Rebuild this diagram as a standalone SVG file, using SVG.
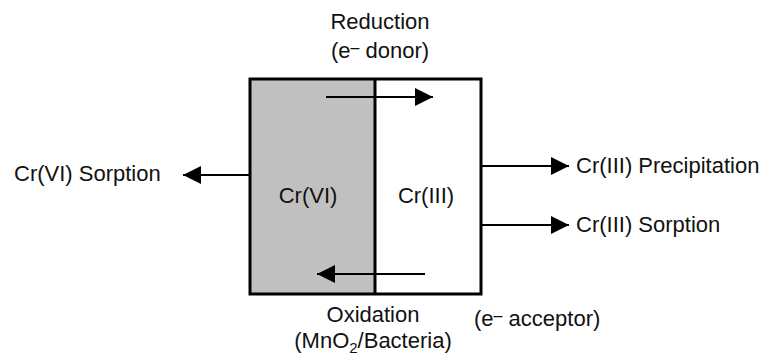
<svg xmlns="http://www.w3.org/2000/svg" width="766" height="356" viewBox="0 0 766 356">
<style>
text{font-family:"Liberation Sans",Arial,sans-serif;font-size:22px;fill:#111}
.c{text-anchor:middle}
.box{stroke:#000;stroke-width:3;fill:none}
.arr{stroke:#000;stroke-width:2.2;fill:none;marker-end:url(#ah)}
</style>
<defs>
<marker id="ah" markerUnits="userSpaceOnUse" markerWidth="20" markerHeight="18" refX="18" refY="9" orient="auto">
<path d="M0,0 L18,9 L0,18 Z" fill="#000"/>
</marker>
</defs>
<rect width="766" height="356" fill="#fff"/>
<g id="crvi">
<rect x="250" y="79" width="125" height="215" fill="#c0c0c0"/>
<text class="c" x="308" y="203">Cr(VI)</text>
</g>
<g id="criii">
<rect x="375" y="79" width="106" height="215" fill="#fff"/>
<text class="c" x="426" y="203">Cr(III)</text>
</g>
<g id="frame">
<rect class="box" x="250" y="79" width="231" height="215"/>
<line x1="375" y1="79" x2="375" y2="294" stroke="#000" stroke-width="3"/>
</g>
<g id="connectors">
<line class="arr" x1="326" y1="97" x2="433" y2="97"/>
<line class="arr" x1="425" y1="274" x2="317" y2="274"/>
<line class="arr" x1="249" y1="175" x2="183" y2="175"/>
<line class="arr" x1="482" y1="166" x2="569" y2="166"/>
<line class="arr" x1="482" y1="225" x2="569" y2="225"/>
</g>
<g id="reduction">
<text class="c" x="380" y="29">Reduction</text>
<text class="c" x="380" y="58">(e<tspan font-size="16" dy="-5">–</tspan><tspan dy="5"> donor)</tspan></text>
</g>
<g id="oxidation">
<text class="c" x="373" y="322">Oxidation</text>
<text class="c" x="373" y="348">(MnO<tspan font-size="15" dy="5">2</tspan><tspan dy="-5">/Bacteria)</tspan></text>
</g>
<g id="acceptor">
<text x="474" y="326">(e<tspan font-size="16" dy="-5">–</tspan><tspan dy="5"> acceptor)</tspan></text>
</g>
<g id="crvi-sorption">
<text x="14" y="181">Cr(VI) Sorption</text>
</g>
<g id="criii-precipitation">
<text x="576" y="173">Cr(III) Precipitation</text>
</g>
<g id="criii-sorption">
<text x="576" y="232">Cr(III) Sorption</text>
</g>
</svg>
